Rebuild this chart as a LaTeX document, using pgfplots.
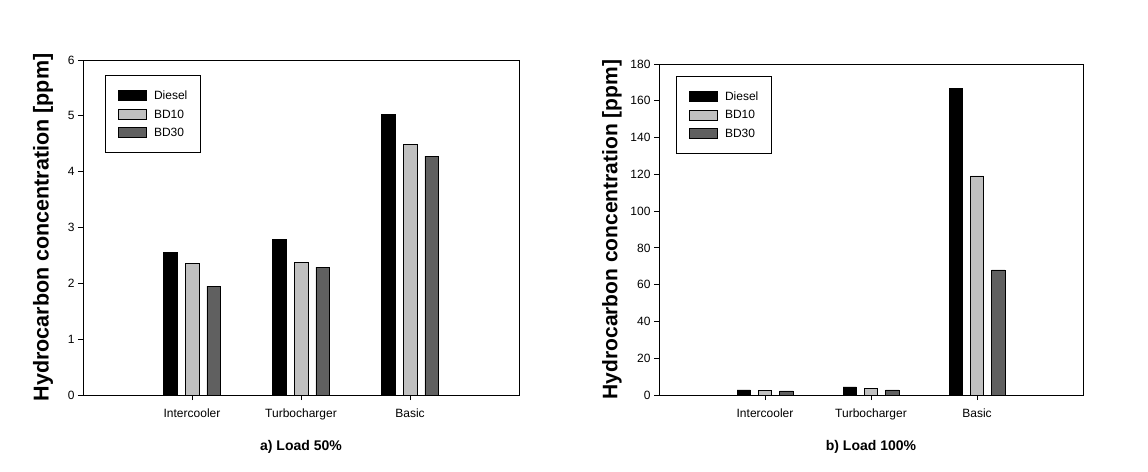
\documentclass[border=0pt]{standalone}
\usepackage{pgfplots}
\pgfplotsset{compat=1.18}
\usepackage{fontspec}
\setmainfont{Liberation Sans}
\definecolor{bdten}{HTML}{C0C0C0}
\definecolor{bdthirty}{HTML}{606060}
\pgfplotsset{
  hcstyle/.style={
    scale only axis,
    anchor=south west,
    xmin=-1, xmax=3,
    ymin=0,
    xtick={0,1,2},
    xticklabels={Intercooler,Turbocharger,Basic},
    tick align=outside,
    tick pos=left,
    major tick length=5pt,
    axis line style={line width=0.8pt},
    every tick/.style={black, line width=0.8pt},
    tick label style={font=\fontsize{12}{14}\selectfont},
    xticklabel style={yshift=-5pt},
    /pgf/number format/assume math mode=true,
    ybar, bar width=0.125,
    every axis x label/.style={at={(axis description cs:0.5,0)}, yshift=-52pt, anchor=center, font=\fontsize{14}{16}\selectfont\bfseries},
    legend style={at={(axis description cs:0,1)}, anchor=north west,
      draw=black, line width=0.8pt, inner xsep=13pt, inner ysep=15pt,
      row sep=7.5pt, column sep=7pt,
      font=\fontsize{12}{14}\selectfont,
      nodes={inner sep=0pt, anchor=base west}},
    legend cell align=left,
  },
  barstyle/.style={draw=black, line width=0.6pt, fill=#1,
    legend image code/.code={\draw[draw=black, line width=0.6pt, fill=#1] (0pt,-1pt) rectangle (28pt,9pt);}},
}
\begin{document}
\begin{tikzpicture}
\useasboundingbox (0,0) rectangle (1148pt,471pt);
% left
\begin{axis}[hcstyle, at={(83pt,76pt)}, width=436pt, height=335pt,
  ymax=6, ytick={0,1,2,3,4,5,6},
  every axis y label/.style={at={(axis description cs:0,0.5)}, xshift=-40pt, rotate=90, anchor=center, font=\fontsize{21.5}{24}\selectfont\bfseries},
  xlabel={a) Load 50\%}, ylabel={Hydrocarbon concentration [ppm]},
  legend style={xshift=22pt, yshift=-15pt}]
\addplot[barstyle=black, bar shift=-0.2] coordinates {(0,2.55) (1,2.78) (2,5.03)};
\addplot[barstyle=bdten, bar shift=0] coordinates {(0,2.36) (1,2.38) (2,4.49)};
\addplot[barstyle=bdthirty, bar shift=0.2] coordinates {(0,1.95) (1,2.29) (2,4.28)};
\legend{Diesel,BD10,BD30}
\end{axis}
% right
\begin{axis}[hcstyle, at={(659pt,76pt)}, width=424pt, height=331pt,
  ymax=180, ytick={0,20,...,180},
  every axis y label/.style={at={(axis description cs:0,0.5)}, xshift=-47pt, rotate=90, anchor=center, font=\fontsize{21}{24}\selectfont\bfseries},
  xlabel={b) Load 100\%}, ylabel={Hydrocarbon concentration [ppm]},
  legend style={xshift=17pt, yshift=-12pt}]
\addplot[barstyle=black, bar shift=-0.2] coordinates {(0,2.8) (1,4.4) (2,166.9)};
\addplot[barstyle=bdten, bar shift=0] coordinates {(0,2.7) (1,3.7) (2,119.1)};
\addplot[barstyle=bdthirty, bar shift=0.2] coordinates {(0,2.2) (1,2.8) (2,68.0)};
\legend{Diesel,BD10,BD30}
\end{axis}
\end{tikzpicture}
\end{document}
